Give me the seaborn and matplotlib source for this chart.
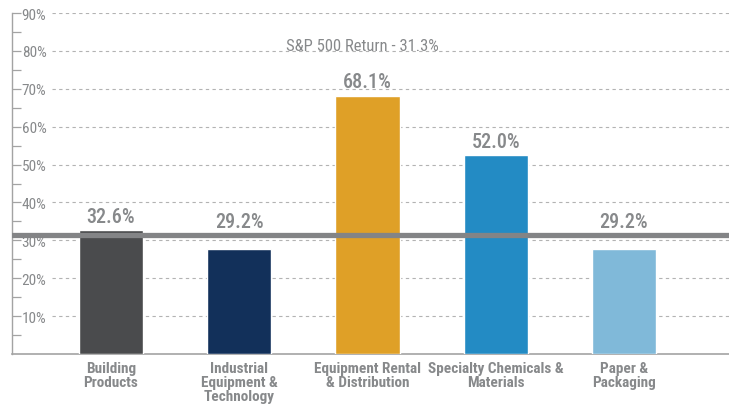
import matplotlib
matplotlib.use("Agg")
import matplotlib.pyplot as plt
from matplotlib.ticker import FixedLocator
import seaborn as sns
import pandas as pd

# ---- data ----
categories = ["Building\nProducts", "Industrial\nEquipment &\nTechnology",
              "Equipment Rental\n& Distribution", "Specialty Chemicals &\nMaterials",
              "Paper &\nPackaging"]
bar_heights = [32.7, 27.7, 68.2, 52.5, 27.7]
value_labels = ["32.6%", "29.2%", "68.1%", "52.0%", "29.2%"]
bar_colors = ["#4a4b4d", "#12305a", "#dfa027", "#238bc4", "#80b9d9"]
sp500_return = 31.3
sp500_label = "S&P 500 Return - 31.3%"
ytick_values = [10, 20, 30, 40, 50, 60, 70, 80, 90]
ytick_labels = ["10%", "20%", "30%", "40%", "50%", "60%", "70%", "80%", "90%"]

sns.set_theme(style="white")
plt.rcParams["font.family"] = ["Roboto Condensed", "DejaVu Sans"]

GRAY_TXT = "#87898b"
AX_GRAY = "#a3a3a3"

fig = plt.figure(figsize=(7.29, 4.10), dpi=100)
ax = fig.add_axes([12 / 729, (410 - 355) / 410, 1 - 12 / 729, (355 - 14) / 410])

df = pd.DataFrame({"category": categories, "height": bar_heights})
sns.barplot(data=df, x="category", y="height", hue="category",
            palette=bar_colors, width=0.5, saturation=1, legend=False,
            ax=ax, zorder=3)

ax.set_xlim(-0.772, 4.819)
ax.set_ylim(0, 90)

# gridlines (dashed, starting after the tick labels)
for v in ytick_values:
    ax.axhline(v, xmin=0.056, xmax=1, color="#b3b3b3", lw=0.8,
               ls=(0, (3, 3)), zorder=1)

# S&P 500 reference line
ax.axhline(sp500_return, color="#838486", lw=3.8, zorder=4)
ax.text(0.488, 0.905, sp500_label, transform=ax.transAxes, ha="center",
        va="center", fontsize=12, color=GRAY_TXT)

# value labels
for i, (h, lab) in enumerate(zip(bar_heights, value_labels)):
    ax.annotate(lab, (i, max(h, sp500_return)), xytext=(0, 3),
                textcoords="offset points", ha="center", va="bottom",
                fontsize=14.5, fontweight="medium", color=GRAY_TXT, zorder=5)

# axes styling
for s in ["top", "right"]:
    ax.spines[s].set_visible(False)
ax.spines["left"].set_color(AX_GRAY)
ax.spines["bottom"].set_color(AX_GRAY)
ax.spines["left"].set_linewidth(1.0)
ax.spines["bottom"].set_linewidth(1.2)

ax.yaxis.set_major_locator(FixedLocator(ytick_values))
ax.set_yticklabels(ytick_labels)
ax.yaxis.set_minor_locator(FixedLocator([5, 15, 25, 35, 45, 55, 65, 75, 85]))
ax.tick_params(axis="y", which="both", direction="in", length=6.5, width=0.9,
               color=AX_GRAY, left=True)
ax.tick_params(axis="y", which="major", pad=-7, labelsize=11,
               labelcolor=GRAY_TXT)
for lbl in ax.get_yticklabels():
    lbl.set_horizontalalignment("left")

ax.tick_params(axis="x", length=0, pad=5, labelsize=11, labelcolor=GRAY_TXT)
for lbl in ax.get_xticklabels():
    lbl.set_fontweight("bold")
    lbl.set_linespacing(1.0)
    lbl.set_verticalalignment("top")

ax.set_xlabel("")
ax.set_ylabel("")
ax.patch.set_alpha(0)

fig.savefig("out.png", dpi=100)
